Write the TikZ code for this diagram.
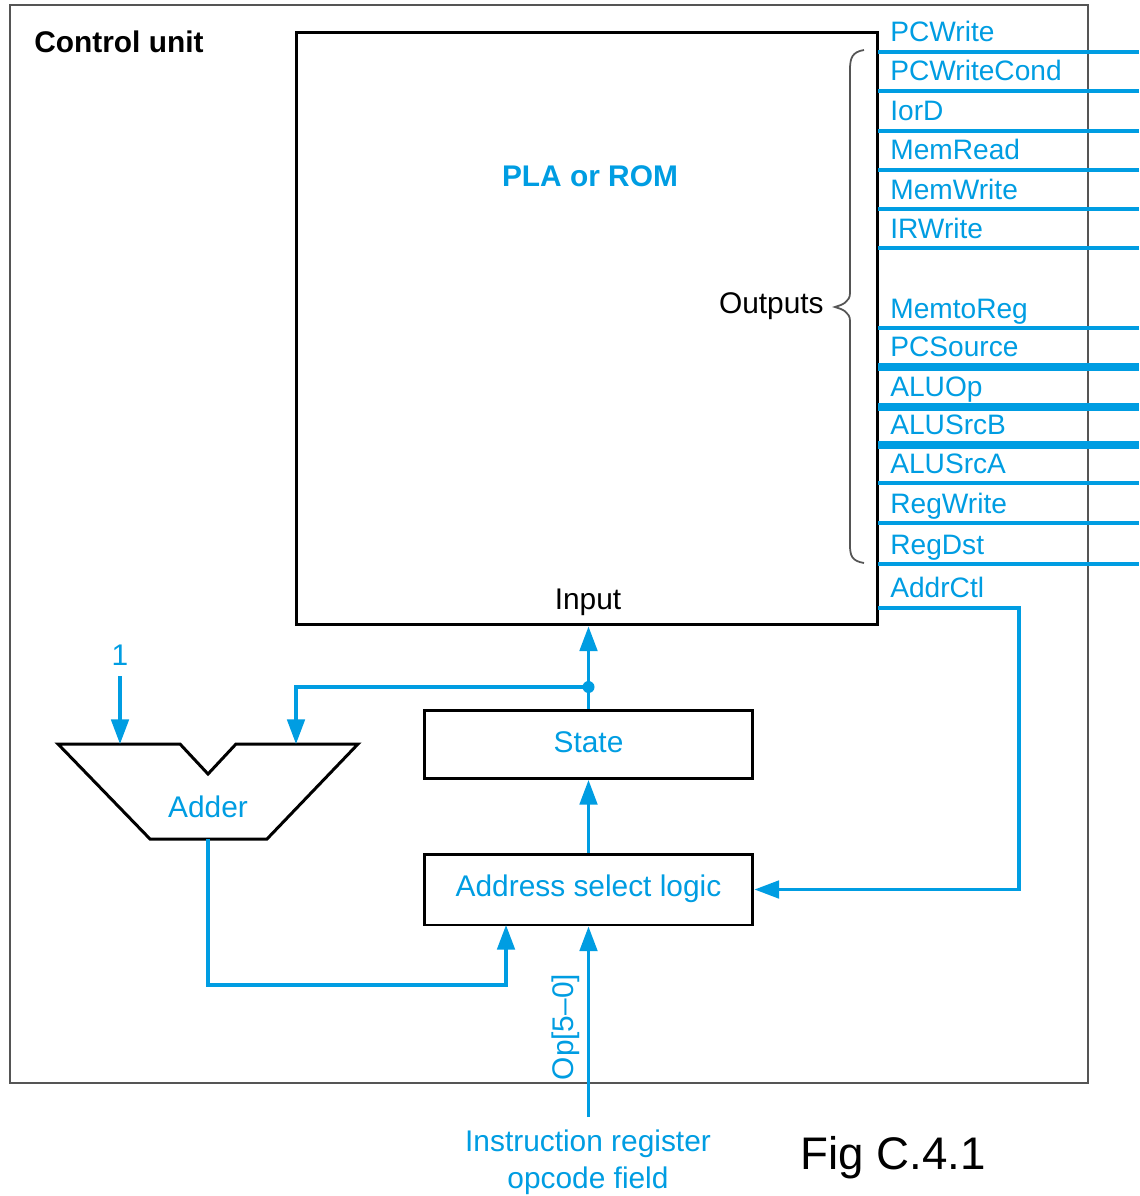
\documentclass[tikz,border=0pt]{standalone}
\usepackage{fontspec}
\setmainfont{Liberation Sans}
\usetikzlibrary{arrows.meta}
\definecolor{sigblue}{RGB}{0,157,226}
\definecolor{boxgray}{RGB}{85,85,85}
\begin{document}
\begin{tikzpicture}[x=0.02cm,y=-0.02cm,
 lbl/.style={font=\fontsize{17}{20}\selectfont, text=sigblue, inner sep=0},
 blacklbl/.style={font=\fontsize{17}{20}\selectfont, text=black, inner sep=0},
 sig/.style={font=\fontsize{16}{19}\selectfont, text=sigblue, anchor=base west, inner sep=0},
 wire/.style={draw=sigblue, line width=1.8pt},
 bus/.style={draw=sigblue, line width=4.5pt},
 arr/.style={wire, -{Triangle[length=14pt,width=10pt]}},
 blk/.style={draw=black, line width=1.7pt, inner sep=0}
]
\useasboundingbox (0,0) rectangle (1139,1196);
% outer frame
\node[draw=boxgray, line width=1.1pt, minimum width=21.56cm, minimum height=21.56cm, inner sep=0] (cu) at (549,544) {};
\node[font=\fontsize{17}{20}\selectfont\bfseries, text=black, anchor=west, inner sep=0] (cutitle) at (34,42) {Control unit};
% PLA
\node[blk, minimum width=11.64cm, minimum height=11.86cm] (pla) at (587,328.5) {};
\node[font=\fontsize{17}{20}\selectfont\bfseries, text=sigblue, inner sep=0] (platxt) at (590,176) {PLA or ROM};
\node[blacklbl] (input) at (588,602) {Input};
\node[blacklbl, anchor=east] (outputs) at (824,306) {Outputs};
% brace
\draw[boxgray, line width=1pt] (864,50) .. controls (852,52) and (850,58) .. (850,70) -- (850,293) .. controls (850,302) and (842,305) .. (835,307) .. controls (842,309) and (850,312) .. (850,321) -- (850,545) .. controls (850,556) and (852,561) .. (864,563);
% signals
\foreach \n/\y in {PCWrite/52, PCWriteCond/91, IorD/131, MemRead/170, MemWrite/209, IRWrite/248, MemtoReg/328, ALUSrcA/483, RegWrite/523, RegDst/564}{
  \draw[wire] (878,\y) -- (1139,\y);
  \node[sig] (s\n) at (890,\y-10) {\n};
}
\foreach \n/\y in {PCSource/367, ALUOp/407, ALUSrcB/445}{
  \draw[bus] (878,\y) -- (1139,\y);
  \node[sig] (s\n) at (890,\y-11) {\n};
}
\node[sig] (sAddrCtl) at (890,597) {AddrCtl};
% state & address select
\node[blk, minimum width=6.58cm, minimum height=1.36cm] (state) at (588.5,744.5) {};
\node[lbl] (statetxt) at (588.5,742) {State};
\node[blk, minimum width=6.58cm, minimum height=1.42cm] (addr) at (588.5,889.5) {};
\node[lbl] (addrtxt) at (588.5,889) {Address select logic};
% adder
\draw[black, line width=1.7pt, line join=miter] (58,744) -- (180,744) -- (208,774) -- (236,744) -- (358,744) -- (267,839) -- (150,839) -- cycle;
\node[lbl] (adder) at (208,807) {Adder};
\coordinate (addin1) at (120,744);
\coordinate (addin2) at (296,744);
\coordinate (addout) at (208,839);
\node[lbl] (one) at (120,655) {1};
\coordinate (onestart) at (120,676);
% connectors
\draw[arr] (state.north) -- (state.north |- pla.south);
\coordinate (j) at (588.5,687);
\fill[sigblue] (j) circle (6);
\draw[arr] (j) -| (addin2);
\draw[arr] (onestart) -- (addin1);
\draw[arr] (addr.north) -- (state.south);
\draw[arr] (addout) -- (208,985) -| (506,925);
\coordinate (opin) at (588.5,1117);
\draw[arr] (opin) -- (addr.south);
\node[lbl, rotate=90] (oplbl) at (566,1027) {Op[5–0]};
\coordinate (ctlout) at (878,608);
\draw[arr] (ctlout) -- (1019,608) -- (1019,889.5) -- (addr.east);
\node[lbl, align=center, font=\fontsize{17}{21}\selectfont] (ir) at (588,1162) {Instruction register\\opcode field};
\node[font=\fontsize{26}{30}\selectfont, text=black, inner sep=0] (fig) at (893,1158) {Fig C.4.1};
\end{tikzpicture}
\end{document}
